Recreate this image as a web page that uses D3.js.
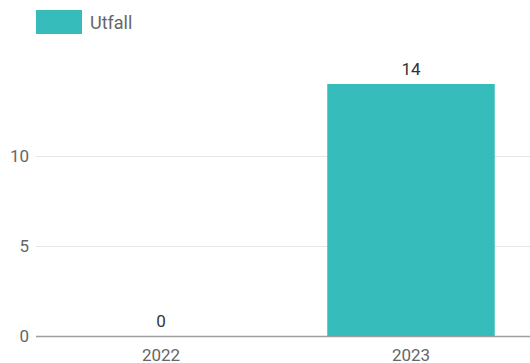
<!DOCTYPE html>
<html><head><meta charset="utf-8">
<script src="https://cdn.jsdelivr.net/npm/d3@7"></script>
<style>body{margin:0;background:#fff}svg{display:block;font-family:Roboto,sans-serif}</style>
</head><body><svg id="c" width="530" height="363"></svg>
<script>
const categories = ["2022", "2023"];
const values = [0, 14];
const seriesName = "Utfall";
const yTicks = [0, 5, 10];

const svg = d3.select("#c");
const color = "#37bcbc";
const x = d3.scaleBand().domain(categories).range([36, 536]).paddingInner(0.33).paddingOuter(0.165);
const y = d3.scaleLinear().domain([0, 10]).range([336, 156]);

// gridlines
svg.append("g").selectAll("line").data(yTicks).join("line")
  .attr("x1", 36).attr("x2", 530)
  .attr("y1", d => y(d) + 0.5).attr("y2", d => y(d) + 0.5)
  .attr("stroke", d => d === 0 ? "#9e9e9e" : "#e6e6e6").attr("stroke-width", d => d === 0 ? 1.5 : 1);

// y axis labels
const yAxis = d3.axisLeft(y).tickValues(yTicks).tickSize(0).tickPadding(0);
const ga = svg.append("g").attr("transform", "translate(29,0)").call(yAxis);
ga.select(".domain").remove();
ga.selectAll("text").attr("font-size", 17).attr("fill", "#666").attr("font-family", "Roboto");

// bars
svg.append("g").selectAll("rect").data(categories).join("rect")
  .attr("x", d => x(d)).attr("width", x.bandwidth())
  .attr("y", (d, i) => y(values[i])).attr("height", (d, i) => y(0) - y(values[i]))
  .attr("fill", color);

// value labels
svg.append("g").selectAll("text").data(categories).join("text")
  .attr("x", d => x(d) + x.bandwidth() / 2)
  .attr("y", (d, i) => y(values[i]) - 9)
  .attr("text-anchor", "middle").attr("font-size", 17).attr("fill", "#333")
  .text((d, i) => values[i]);

// x axis labels
const xAxis = d3.axisBottom(x).tickSize(0).tickPadding(0);
const gx = svg.append("g").attr("transform", "translate(0,361)").call(xAxis);
gx.select(".domain").remove();
gx.selectAll("text").attr("font-size", 17).attr("fill", "#666").attr("font-family", "Roboto").attr("dy", "0");

// legend
svg.append("rect").attr("x", 36).attr("y", 10).attr("width", 46).attr("height", 24).attr("fill", color);
svg.append("text").attr("x", 90).attr("y", 29).attr("font-size", 18).attr("fill", "#666").text(seriesName);
</script></body></html>
